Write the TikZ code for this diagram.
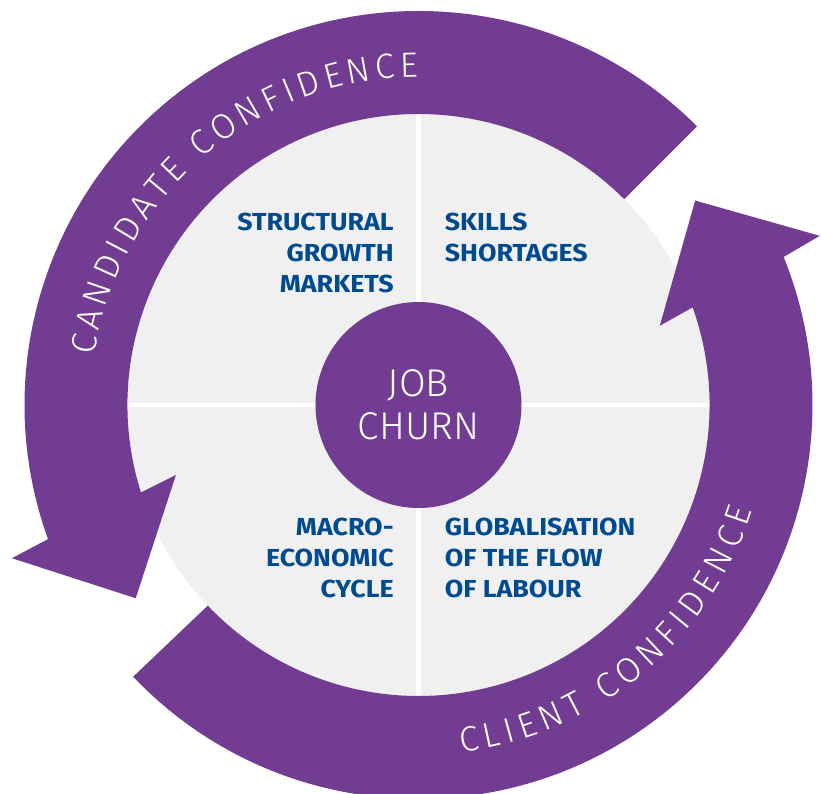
\documentclass[tikz,border=0pt]{standalone}
\usepackage{fontspec}
\setmainfont{Fira Sans}
\newfontfamily\lightfont{Fira Sans Light}
\newfontfamily\labelfont[FakeStretch=1.09]{Fira Sans}
\usetikzlibrary{decorations.text}
\definecolor{churnpurple}{RGB}{114,60,146}
\definecolor{labelblue}{RGB}{0,74,143}
\definecolor{discgray}{RGB}{240,240,240}
\tikzset{quadlabel/.style={font=\labelfont\bfseries\fontsize{14}{17.6}\selectfont, text=labelblue, inner sep=0pt}}
\tikzset{hub/.style={circle, fill=churnpurple, minimum size=4.12cm, inner sep=0pt, text=white, align=center, font=\lightfont\fontsize{22}{24.5}\selectfont}}
\tikzset{ringtext/.style={decoration={text along path, text align=fit to path, text={|\lightfont\fontsize{20}{24}\selectfont\color{white}|#1}}, decorate}}

\begin{document}
\begin{tikzpicture}
      \useasboundingbox (-8.37, -7.78) rectangle (8.05, 8.1);

      \fill [discgray] (0, 0) circle (5.82);
      \draw [white, line width=2.6pt] (-5.82, 0) -- (5.82, 0);
      \draw [white, line width=2.6pt] (0, -5.82) -- (0, 5.82);

      \fill [churnpurple] (45:7.88) arc[start angle=45, end angle=199.9, radius=7.88] -- (200.65:8.69) -- (214.35:6.85) -- (196.1:5.05) -- (197.5:5.82) arc[start angle=197.5, end angle=45, radius=5.82] -- cycle;
      \fill [churnpurple] (223.6:7.88) arc[start angle=223.6, end angle=382.07, radius=7.88] -- (22.86:8.71) -- (36.46:6.88) -- (18.18:5.08) -- (19.6:5.82) arc[start angle=379.6, end angle=223.6, radius=5.82] -- cycle;

      \path [ringtext=CANDIDATE CONFIDENCE] (171.3:6.56) arc[start angle=171.3, end angle=90, radius=6.56];
      \path [ringtext=CLIENT CONFIDENCE] (-83:7.0) arc[start angle=-83, end angle=-17.5, radius=7.0];

      \node [hub] (churn) at (0, 0) {JOB\\CHURN};

      \node [quadlabel, anchor=north east, align=right] (structural) at (-0.49, 3.84) {STRUCTURAL\\GROWTH\\MARKETS};
      \node [quadlabel, anchor=north west, align=left] (skills) at (0.52, 3.84) {SKILLS\\SHORTAGES};
      \node [quadlabel, anchor=north east, align=right] (macro) at (-0.49, -2.26) {MACRO-\\ECONOMIC\\CYCLE};
      \node [quadlabel, anchor=north west, align=left] (global) at (0.52, -2.26) {GLOBALISATION\\OF THE FLOW\\OF LABOUR};
    \end{tikzpicture}
\end{document}
